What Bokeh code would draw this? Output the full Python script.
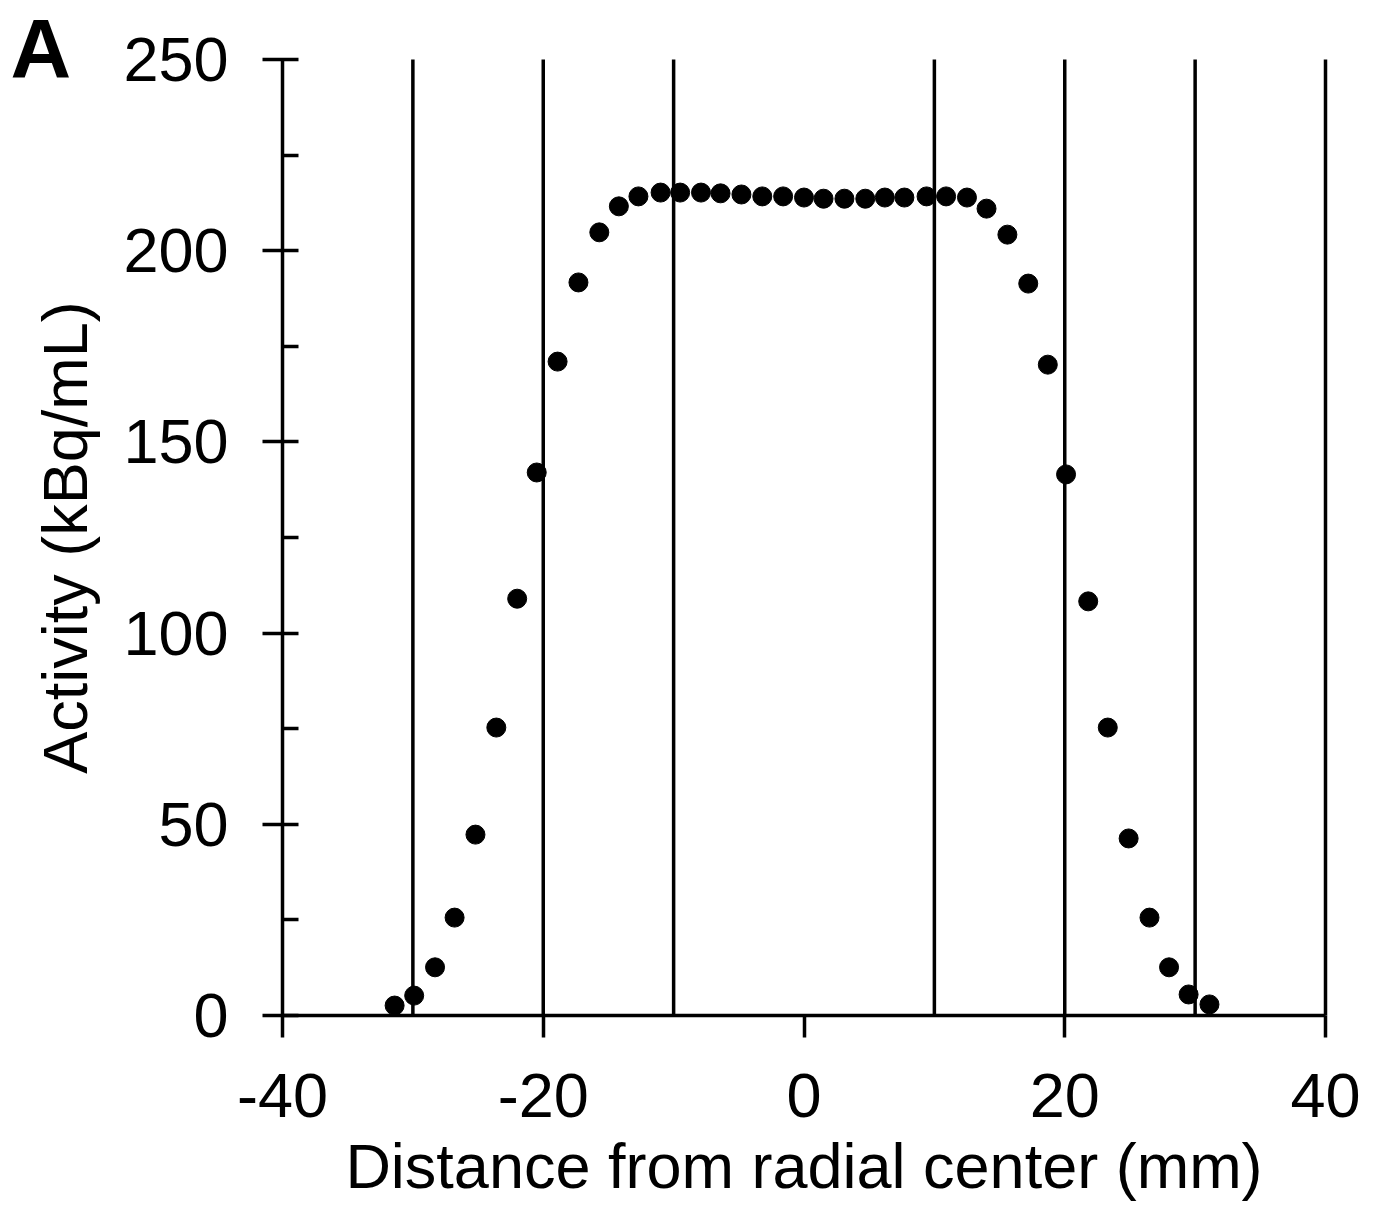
from bokeh.plotting import figure
from bokeh.models import Range1d, FixedTicker, Label
from bokeh.embed import file_html
from bokeh.resources import INLINE

# Data
distance_mm = [-31.4, -29.9, -28.3, -26.8, -25.2, -23.6, -22.0, -20.5, -18.9, -17.3,
               -15.7, -14.2, -12.7, -11.0, -9.5, -7.9, -6.4, -4.8, -3.2, -1.6,
               0.0, 1.5, 3.1, 4.7, 6.2, 7.7, 9.4, 10.9, 12.5, 14.0,
               15.6, 17.2, 18.7, 20.1, 21.8, 23.3, 24.9, 26.5, 28.0, 29.5, 31.1]
activity = [2.6, 5.2, 12.6, 25.6, 47.3, 75.3, 109.0, 142.0, 171.0, 191.7,
            204.8, 211.6, 214.2, 215.2, 215.2, 215.2, 215.0, 214.7, 214.2, 214.2,
            213.9, 213.6, 213.6, 213.6, 213.9, 213.9, 214.2, 214.2, 213.9, 211.0,
            204.2, 191.4, 170.2, 141.5, 108.3, 75.3, 46.3, 25.6, 12.6, 5.5, 2.9]

x_ticks = [-40, -20, 0, 20, 40]
x_tick_labels = ["-40", "-20", "0", "20", "40"]
x_grid = [-30, -20, -10, 10, 20, 30, 40]
y_ticks = [0, 50, 100, 150, 200, 250]
y_minor = [25, 75, 125, 175, 225]

FONT = "Liberation Sans"
FS = "63px"
LW = 3.5

# layout (pixels) of the plotting area inside the canvas
W, H = 1360, 1203
PX_LEFT, PX_RIGHT, PY_TOP, PY_BOTTOM = 282, 1325, 59, 1015
X_MIN, X_MAX = x_ticks[0], x_ticks[-1]
Y_MIN, Y_MAX = y_ticks[0], y_ticks[-1]
kx = (PX_RIGHT - PX_LEFT) / (X_MAX - X_MIN)
ky = (PY_BOTTOM - PY_TOP) / (Y_MAX - Y_MIN)
x_range = Range1d(X_MIN - PX_LEFT / kx, X_MAX + (W - PX_RIGHT) / kx)
y_range = Range1d(Y_MIN - (H - PY_BOTTOM) / ky, Y_MAX + PY_TOP / ky)

p = figure(width=W, height=H, output_backend="svg", toolbar_location=None,
           x_range=x_range, y_range=y_range, min_border=0, title_location=None)
p.outline_line_color = None
p.background_fill_color = "white"
p.border_fill_color = "white"
p.xgrid.grid_line_color = None
p.ygrid.grid_line_color = None

# vertical grid lines spanning the value range
p.segment(x0=x_grid, y0=[Y_MIN] * len(x_grid), x1=x_grid, y1=[Y_MAX] * len(x_grid),
          line_color="black", line_width=LW)

# x axis
xa = p.xaxis[0]
xa.fixed_location = Y_MIN
xa.bounds = (X_MIN, X_MAX)
xa.ticker = FixedTicker(ticks=x_ticks, minor_ticks=[])
xa.major_label_overrides = {t: s for t, s in zip(x_ticks, x_tick_labels)}
xa.axis_line_width = LW
xa.axis_line_color = "black"
xa.major_tick_line_width = LW
xa.major_tick_line_color = "black"
xa.major_tick_out = 22
xa.major_tick_in = 0
xa.minor_tick_line_color = None
xa.major_label_text_font = FONT
xa.major_label_text_font_size = FS
xa.major_label_text_color = "black"
xa.major_label_standoff = 36
xa.axis_label = "Distance from radial center (mm)"
xa.axis_label_text_font = FONT
xa.axis_label_text_font_size = FS
xa.axis_label_text_font_style = "normal"
xa.axis_label_text_color = "black"
xa.axis_label_standoff = 11

# y axis
ya = p.yaxis[0]
ya.fixed_location = X_MIN
ya.bounds = (Y_MIN, Y_MAX)
ya.ticker = FixedTicker(ticks=y_ticks, minor_ticks=y_minor)
ya.axis_line_width = LW
ya.axis_line_color = "black"
ya.major_tick_line_width = LW
ya.major_tick_line_color = "black"
ya.major_tick_out = 20
ya.major_tick_in = 16
ya.minor_tick_line_width = LW
ya.minor_tick_line_color = "black"
ya.minor_tick_out = 0
ya.minor_tick_in = 16
ya.major_label_text_font = FONT
ya.major_label_text_font_size = FS
ya.major_label_text_color = "black"
ya.major_label_standoff = 34
ya.axis_label = "Activity (kBq/mL)"
ya.axis_label_text_font = FONT
ya.axis_label_text_font_size = FS
ya.axis_label_text_font_style = "normal"
ya.axis_label_text_color = "black"
ya.axis_label_standoff = 20

p.scatter(distance_mm, activity, size=19, color="black", line_color="black")

# panel letter in the top-left corner
panel = Label(x=X_MIN - 272 / kx, y=Y_MAX + 11 / ky, x_units="data", y_units="data",
              text="A", text_font=FONT, text_font_size="84px", text_font_style="bold",
              text_color="black", text_baseline="alphabetic", text_align="left")
p.add_layout(panel)

open("out.html", "w").write(file_html(p, INLINE))
